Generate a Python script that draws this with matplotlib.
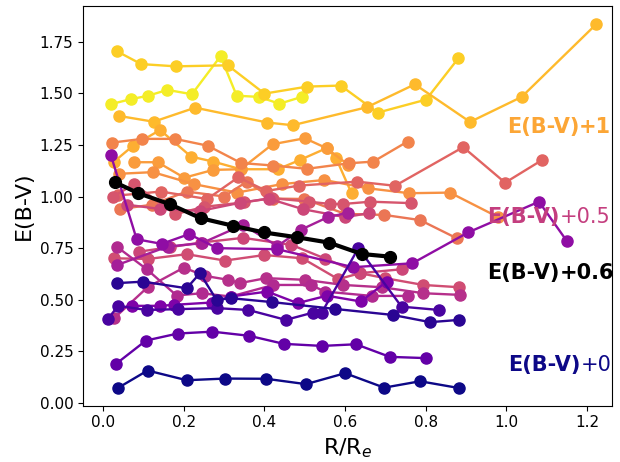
import matplotlib
matplotlib.use('Agg')
import matplotlib.pyplot as plt

cmap = plt.get_cmap('plasma')

# radial E(B-V) profiles, each with the plasma value used for its colour
lines = [
    # (colour value, R/Re, E(B-V))
    (0.97, [0.019, 0.070, 0.110, 0.159, 0.220, 0.291, 0.331, 0.387, 0.437, 0.494],
           [1.447, 1.472, 1.487, 1.516, 1.495, 1.679, 1.488, 1.482, 1.449, 1.483]),
    (0.90, [0.033, 0.094, 0.180, 0.309, 0.400, 0.506, 0.589, 0.681, 0.801, 0.881],
           [1.704, 1.641, 1.630, 1.635, 1.498, 1.532, 1.537, 1.406, 1.469, 1.669]),
    (0.85, [0.039, 0.125, 0.228, 0.407, 0.470, 0.654, 0.773, 0.910, 1.038, 1.223],
           [1.390, 1.362, 1.430, 1.358, 1.345, 1.432, 1.543, 1.361, 1.482, 1.834]),
    (0.82, [0.027, 0.074, 0.141, 0.218, 0.273, 0.341, 0.433, 0.488, 0.554, 0.577, 0.616],
           [1.169, 1.246, 1.322, 1.193, 1.169, 1.132, 1.132, 1.177, 1.234, 1.188, 1.016]),
    (0.77, [0.077, 0.135, 0.201, 0.273, 0.341, 0.420, 0.500, 0.554, 0.608],
           [1.166, 1.166, 1.091, 1.129, 1.132, 1.253, 1.282, 1.234, 1.153]),
    (0.74, [0.039, 0.123, 0.225, 0.332, 0.443, 0.548, 0.656, 0.759, 0.860, 0.980],
           [1.110, 1.118, 1.060, 1.019, 1.060, 1.080, 1.040, 1.016, 1.019, 0.900]),
    (0.70, [0.022, 0.097, 0.178, 0.259, 0.342, 0.422, 0.505, 0.610, 0.670, 0.755],
           [1.261, 1.279, 1.279, 1.246, 1.162, 1.150, 1.134, 1.161, 1.169, 1.266]),
    (0.66, [0.041, 0.120, 0.207, 0.300, 0.356, 0.420, 0.499, 0.600, 0.697, 0.786, 0.877],
           [0.939, 0.960, 1.024, 1.000, 1.072, 0.990, 0.988, 0.916, 0.911, 0.886, 0.798]),
    (0.60, [0.037, 0.143, 0.258, 0.335, 0.405, 0.486, 0.630, 0.724, 0.893, 0.997, 1.089],
           [1.005, 1.024, 0.988, 1.093, 1.027, 1.053, 1.072, 1.052, 1.239, 1.067, 1.177]),
    (0.55, [0.025, 0.077, 0.178, 0.250, 0.350, 0.418, 0.511, 0.563, 0.596, 0.663, 0.764],
           [1.000, 1.060, 0.914, 0.950, 0.972, 0.992, 0.975, 0.964, 0.964, 0.975, 0.968]),
    (0.50, [0.060, 0.140, 0.240, 0.340, 0.410, 0.495, 0.600, 0.660],
           [0.960, 0.940, 0.930, 0.970, 0.990, 0.939, 0.900, 0.920]),
    (0.52, [0.027, 0.112, 0.207, 0.302, 0.400, 0.494, 0.583, 0.637, 0.699, 0.794, 0.883],
           [0.701, 0.698, 0.721, 0.690, 0.717, 0.701, 0.600, 0.629, 0.605, 0.572, 0.561]),
    (0.50, [0.089, 0.166, 0.242, 0.347, 0.467, 0.550, 0.637, 0.740],
           [0.733, 0.755, 0.777, 0.800, 0.766, 0.700, 0.629, 0.648]),
    (0.42, [0.027, 0.110, 0.200, 0.252, 0.310, 0.339, 0.404, 0.500, 0.596, 0.691, 0.794, 0.885],
           [0.411, 0.561, 0.656, 0.616, 0.597, 0.581, 0.605, 0.597, 0.572, 0.561, 0.532, 0.524]),
    (0.40, [0.033, 0.108, 0.182, 0.244, 0.316, 0.422, 0.515, 0.550, 0.666, 0.757],
           [0.758, 0.648, 0.521, 0.532, 0.516, 0.572, 0.572, 0.540, 0.519, 0.519]),
    (0.36, [0.035, 0.160, 0.244, 0.347, 0.432, 0.490, 0.557, 0.608],
           [0.669, 0.758, 0.774, 0.863, 0.760, 0.839, 0.900, 0.922]),
    (0.30, [0.019, 0.083, 0.145, 0.213, 0.283, 0.432, 0.620, 0.767, 0.906, 1.081, 1.150],
           [1.200, 0.793, 0.771, 0.818, 0.750, 0.745, 0.658, 0.677, 0.827, 0.975, 0.785]),
    (0.25, [0.072, 0.142, 0.176, 0.269, 0.316, 0.407, 0.482, 0.555, 0.639, 0.703],
           [0.471, 0.471, 0.476, 0.487, 0.516, 0.540, 0.484, 0.520, 0.492, 0.588]),
    (0.18, [0.031, 0.106, 0.185, 0.271, 0.362, 0.448, 0.543, 0.627, 0.711, 0.801],
           [0.189, 0.303, 0.337, 0.346, 0.326, 0.287, 0.277, 0.285, 0.224, 0.218]),
    (0.12, [0.011, 0.037, 0.108, 0.186, 0.281, 0.360, 0.453, 0.520, 0.542, 0.633, 0.740, 0.833],
           [0.406, 0.471, 0.451, 0.455, 0.460, 0.451, 0.403, 0.438, 0.438, 0.750, 0.467, 0.451]),
    (0.05, [0.035, 0.099, 0.207, 0.240, 0.281, 0.317, 0.419, 0.575, 0.718, 0.811, 0.883],
           [0.581, 0.588, 0.556, 0.629, 0.500, 0.508, 0.489, 0.456, 0.427, 0.392, 0.403]),
    (0.00, [0.036, 0.110, 0.207, 0.302, 0.404, 0.503, 0.600, 0.697, 0.786, 0.883],
           [0.073, 0.158, 0.111, 0.119, 0.118, 0.092, 0.145, 0.075, 0.106, 0.073]),
]

# mean profile (shifted by +0.6)
mean_r = [0.029, 0.087, 0.165, 0.242, 0.321, 0.399, 0.480, 0.560, 0.641, 0.711]
mean_ebv = [1.069, 1.016, 0.963, 0.895, 0.859, 0.826, 0.803, 0.777, 0.722, 0.709]

# annotation labels: (bold part, plain part, plain bold?, x, y, colour)
labels = [
    ('E(B-V)', '+1', True, 1.001, 1.337, cmap(0.8)),
    ('E(B-V)', '+0.5', False, 0.953, 0.903, cmap(0.47)),
    ('E(B-V)', '+0.6', True, 0.953, 0.630, 'black'),
    ('E(B-V)', '+0', False, 1.005, 0.185, cmap(0.0)),
]

fig = plt.figure(figsize=(6.2, 4.62), dpi=100)
ax = fig.add_axes([0.134, 0.122, 0.853, 0.865])

for c, r, e in lines:
    ax.plot(r, e, '-o', color=cmap(c), lw=1.7, markersize=8)

ax.plot(mean_r, mean_ebv, '-o', color='black', lw=3, markersize=8.5)

for bold, plain, pw, x, y, col in labels:
    t = ax.text(x, y, bold, color=col, fontsize=15, fontweight='bold', va='center')
    ax.annotate(plain, xy=(1, 0), xycoords=t, color=col, fontsize=15,
                fontweight='bold' if pw else 'normal', va='bottom', ha='left')

ax.set_xlim(-0.05, 1.262)
ax.set_ylim(-0.012, 1.922)
ax.tick_params(labelsize=11)
ax.set_xlabel(r'R/R$_e$', fontsize=16)
ax.set_ylabel('E(B-V)', fontsize=16)

fig.savefig('out.png', dpi=100)
